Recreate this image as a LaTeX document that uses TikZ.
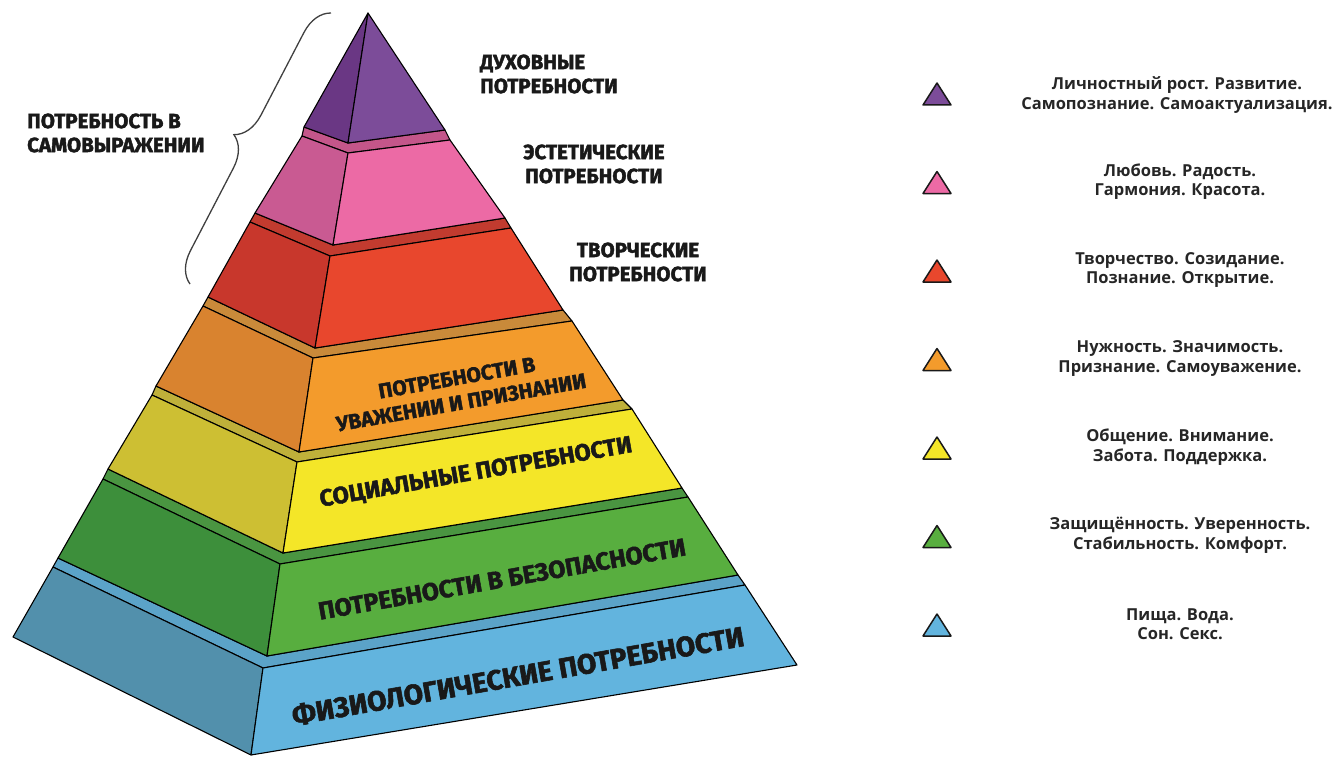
\documentclass[tikz,border=0pt]{standalone}
\usepackage{fontspec}
\setmainfont{Open Sans}
\newfontfamily\headFont{Fira Sans}[BoldFeatures = {FakeBold = 2}]
\usetikzlibrary{decorations.pathreplacing}

% layer colours, 1 = bottom (blue) ... 7 = top (purple)
\definecolor{front1}{HTML}{62B4DE}
\definecolor{side1}{HTML}{5290AC}
\definecolor{ledge1}{HTML}{5BA3C8}
\definecolor{front2}{HTML}{58AE3F}
\definecolor{side2}{HTML}{3D8F3B}
\definecolor{ledge2}{HTML}{4A9541}
\definecolor{front3}{HTML}{F4E628}
\definecolor{side3}{HTML}{CDBF33}
\definecolor{ledge3}{HTML}{BFB03A}
\definecolor{front4}{HTML}{F39B2C}
\definecolor{side4}{HTML}{D9832F}
\definecolor{ledge4}{HTML}{C98A3A}
\definecolor{front5}{HTML}{E8472D}
\definecolor{side5}{HTML}{C8372C}
\definecolor{ledge5}{HTML}{C23B2F}
\definecolor{front6}{HTML}{EC6AA5}
\definecolor{side6}{HTML}{C95A92}
\definecolor{ledge6}{HTML}{C4568A}
\definecolor{front7}{HTML}{7C4C99}
\definecolor{side7}{HTML}{6A3784}

\tikzset{
	layerEdge/.style = {draw = black, line width = 1.1pt, line join = round},
	headLabel/.style = {font = \headFont\bfseries\fontsize{20.5}{24}\selectfont, text = black!90, inner sep = 0pt},
	faceLabel/.style = {font = \headFont\bfseries, text = black!90, align = center, inner sep = 0pt, rotate = 10},
	legendText/.style = {font = \bfseries\fontsize{16.5}{19.5}\selectfont, text = black!85, align = center, inner sep = 0pt},
	legendMark/.style = {draw = black!90, line width = 1.5pt, line join = round}
}

\begin{document}
\begin{tikzpicture}[x = 1pt, y = -1pt]

	\useasboundingbox (0, 0) rectangle (1344, 757);

	% corners of every layer: t = top edge, b = bottom edge; L = left, M = front ridge, R = right
	\coordinate (apex) at (368, 13);
	\coordinate (b7L) at (304, 127); \coordinate (b7M) at (348, 143); \coordinate (b7R) at (445, 130);
	\coordinate (t6L) at (302, 136); \coordinate (t6M) at (348, 153); \coordinate (t6R) at (450, 140);
	\coordinate (b6L) at (255, 213); \coordinate (b6M) at (333, 245); \coordinate (b6R) at (505, 218);
	\coordinate (t5L) at (250, 222); \coordinate (t5M) at (330, 256); \coordinate (t5R) at (511, 228);
	\coordinate (b5L) at (208, 297); \coordinate (b5M) at (315, 348); \coordinate (b5R) at (563, 310);
	\coordinate (t4L) at (203, 306); \coordinate (t4M) at (313, 358); \coordinate (t4R) at (572, 321);
	\coordinate (b4L) at (156, 386); \coordinate (b4M) at (299, 452); \coordinate (b4R) at (623, 400);
	\coordinate (t3L) at (152, 395); \coordinate (t3M) at (297, 462); \coordinate (t3R) at (632, 409);
	\coordinate (b3L) at (108, 469); \coordinate (b3M) at (283, 553); \coordinate (b3R) at (682, 488);
	\coordinate (t2L) at (103, 479); \coordinate (t2M) at (280, 564); \coordinate (t2R) at (688, 497);
	\coordinate (b2L) at (58, 558);  \coordinate (b2M) at (267, 656); \coordinate (b2R) at (738, 575);
	\coordinate (t1L) at (53, 567);  \coordinate (t1M) at (263, 668); \coordinate (t1R) at (745, 585);
	\coordinate (b1L) at (13, 637);  \coordinate (b1M) at (251, 755); \coordinate (b1R) at (797, 665);

	% the six lower layers: top ledge, left face, front face
	\foreach \k/\j in {1/2, 2/3, 3/4, 4/5, 5/6, 6/7} {
		\filldraw[layerEdge, fill = ledge\k] (b\j L) -- (b\j M) -- (b\j R) -- (t\k R) -- (t\k M) -- (t\k L) -- cycle;
		\filldraw[layerEdge, fill = side\k] (t\k L) -- (t\k M) -- (b\k M) -- (b\k L) -- cycle;
		\filldraw[layerEdge, fill = front\k] (t\k M) -- (t\k R) -- (b\k R) -- (b\k M) -- cycle;
	}

	% purple tip
	\filldraw[layerEdge, fill = side7] (apex) -- (b7M) -- (b7L) -- cycle;
	\filldraw[layerEdge, fill = front7] (apex) -- (b7R) -- (b7M) -- cycle;

	% labels on the front faces
	\node[faceLabel, font = \headFont\bfseries\fontsize{21}{25}\selectfont] (esteemLabel) at (459, 390) {ПОТРЕБНОСТИ В\\УВАЖЕНИИ И ПРИЗНАНИИ};
	\node[faceLabel, font = \headFont\bfseries\fontsize{23.6}{28}\selectfont] (socialLabel) at (476, 473) {СОЦИАЛЬНЫЕ ПОТРЕБНОСТИ};
	\node[faceLabel, font = \headFont\bfseries\fontsize{24.7}{28}\selectfont] (safetyLabel) at (502, 579) {ПОТРЕБНОСТИ В БЕЗОПАСНОСТИ};
	\node[faceLabel, font = \headFont\bfseries\fontsize{28}{32}\selectfont] (physLabel) at (518, 676) {ФИЗИОЛОГИЧЕСКИЕ ПОТРЕБНОСТИ};

	% labels beside the upper layers
	\node[headLabel, anchor = west, align = left] (spiritLabel) at (480, 74) {ДУХОВНЫЕ\\ПОТРЕБНОСТИ};
	\node[headLabel, align = center] (aestheticLabel) at (594, 164) {ЭСТЕТИЧЕСКИЕ\\ПОТРЕБНОСТИ};
	\node[headLabel, align = center] (creativeLabel) at (638, 262) {ТВОРЧЕСКИЕ\\ПОТРЕБНОСТИ};
	\node[headLabel, anchor = west, align = left] (selfLabel) at (27, 133) {ПОТРЕБНОСТЬ В\\САМОВЫРАЖЕНИИ};

	% brace over the three upper layers
	\coordinate (braceLow) at (190, 284);
	\coordinate (braceHigh) at (331, 13);
	\draw[line width = 1.3pt, draw = black!75, decorate, decoration = {brace, amplitude = 30pt}] (braceLow) -- (braceHigh);

	% legend marks, top to bottom
	\foreach \i/\c in {0/7, 1/6, 2/5, 3/4, 4/3, 5/2, 6/1} {
		\coordinate (mark\c) at (937, 105 + 88.5 * \i);
		\filldraw[legendMark, fill = front\c] (mark\c) ++(-14, 0) -- ++(28, 0) -- ++(-14, -22) -- cycle;
	}

	% legend texts
	\node[legendText] (legend7) at (1177, 95) {Личностный рост. Развитие.\\Самопознание. Самоактуализация.};
	\node[legendText] (legend6) at (1180, 181.5) {Любовь. Радость.\\Гармония. Красота.};
	\node[legendText] (legend5) at (1180, 270) {Творчество. Созидание.\\Познание. Открытие.};
	\node[legendText] (legend4) at (1180, 358.5) {Нужность. Значимость.\\Признание. Самоуважение.};
	\node[legendText] (legend3) at (1180, 447) {Общение. Внимание.\\Забота. Поддержка.};
	\node[legendText] (legend2) at (1180, 535.5) {Защищённость. Уверенность.\\Стабильность. Комфорт.};
	\node[legendText] (legend1) at (1180, 624) {Пища. Вода.\\Сон. Секс.};

\end{tikzpicture}
\end{document}
